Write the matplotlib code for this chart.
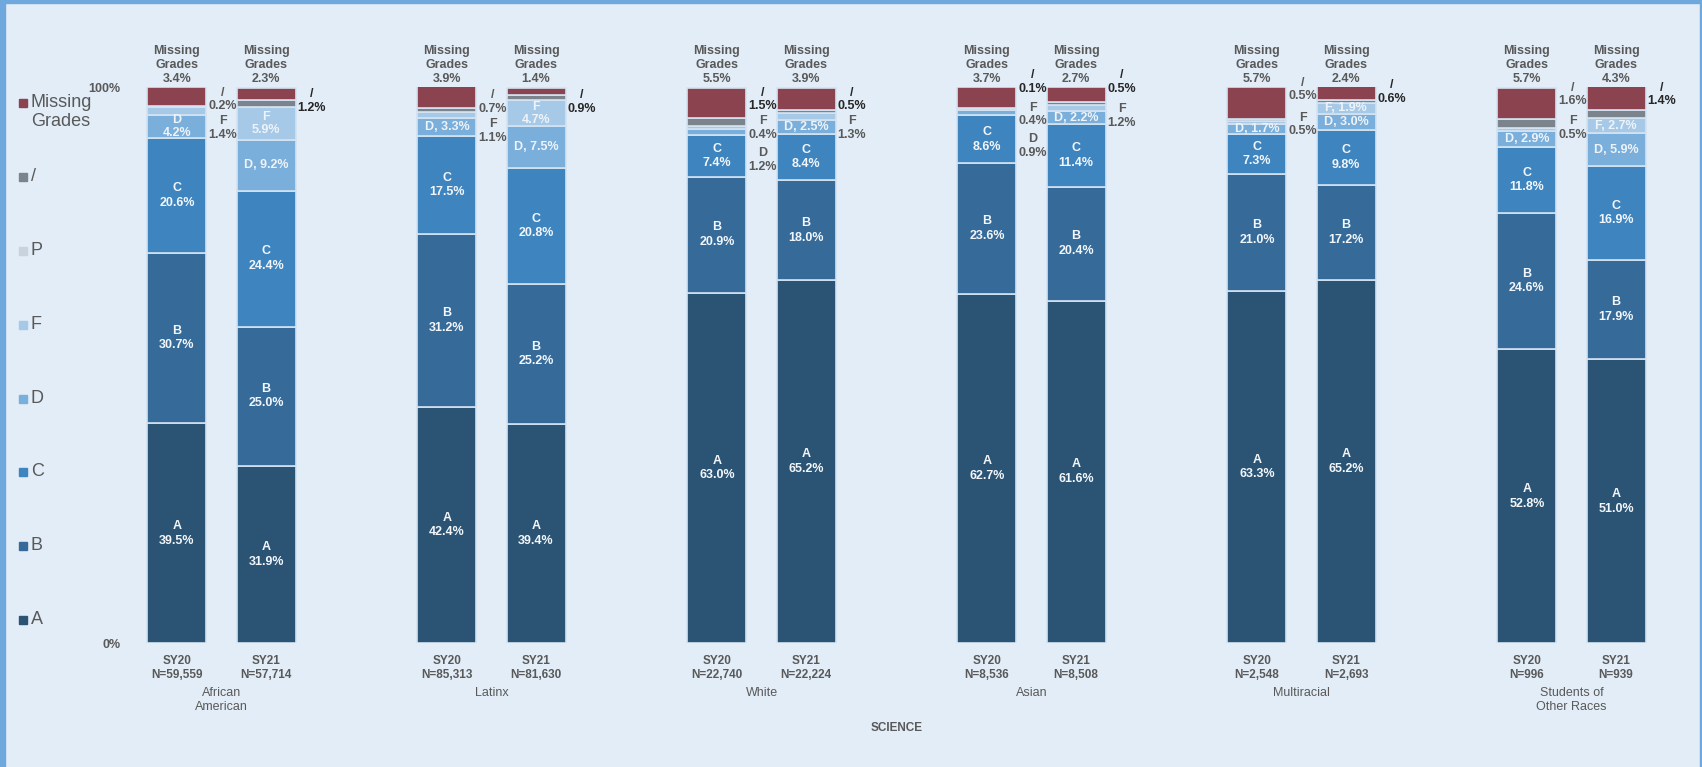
import matplotlib.pyplot as plt
from matplotlib.patches import Rectangle
import numpy as np

plt.rcParams['font.family'] = ['Liberation Sans', 'DejaVu Sans']

# grade categories, bottom to top of each stack
grades = ['A', 'B', 'C', 'D', 'F', 'P', '/', 'Missing Grades']
groups = ['African\nAmerican', 'Latinx', 'White', 'Asian', 'Multiracial', 'Students of\nOther Races']
years = ['SY20', 'SY21']
counts = [['59,559', '57,714'], ['85,313', '81,630'], ['22,740', '22,224'],
          ['8,536', '8,508'], ['2,548', '2,693'], ['996', '939']]

# percent of students per grade, one row per bar (group x year)
A = [39.5, 31.9, 42.4, 39.4, 63.0, 65.2, 62.7, 61.6, 63.3, 65.2, 52.8, 51.0]
B = [30.7, 25.0, 31.2, 25.2, 20.9, 18.0, 23.6, 20.4, 21.0, 17.2, 24.6, 17.9]
C = [20.6, 24.4, 17.5, 20.8, 7.4, 8.4, 8.6, 11.4, 7.3, 9.8, 11.8, 16.9]
D = [4.2, 9.2, 3.3, 7.5, 1.2, 2.5, 0.9, 2.2, 1.7, 3.0, 2.9, 5.9]
F = [1.4, 5.9, 1.1, 4.7, 0.4, 1.3, 0.4, 1.2, 0.5, 1.9, 0.5, 2.7]
P = [0.0, 0.0, 0.0, 0.0, 0.0, 0.0, 0.0, 0.0, 0.0, 0.0, 0.0, 0.0]
slash = [0.2, 1.2, 0.7, 0.9, 1.5, 0.5, 0.1, 0.5, 0.5, 0.6, 1.6, 1.4]
missing = [3.4, 2.3, 3.9, 1.4, 5.5, 3.9, 3.7, 2.7, 5.7, 2.4, 5.7, 4.3]

colors = ['#2b5374', '#366b99', '#3e84bf', '#7aaedb', '#a6c9e7', '#c9d3dd', '#7b838c', '#8b4350']
bg = '#e2edf7'
grey = '#595959'

# callout heights (in % units) for small segments labelled beside the bar
side_y = {
    (0, '/'): 97.7, (0, 'F'): 92.6,
    (1, '/'): 97.5,
    (2, '/'): 97.3, (2, 'F'): 92.1,
    (3, '/'): 97.3,
    (4, '/'): 97.7, (4, 'F'): 92.6, (4, 'D'): 86.9,
    (5, '/'): 97.7, (5, 'F'): 92.6,
    (6, '/'): 100.9, (6, 'F'): 95.1, (6, 'D'): 89.4,
    (7, '/'): 100.9, (7, 'F'): 94.8,
    (8, '/'): 99.5, (8, 'F'): 93.2,
    (9, '/'): 99.1,
    (10, '/'): 98.6, (10, 'F'): 92.6,
    (11, '/'): 98.6,
}
two_line = {(0, 'D'), (1, 'F'), (3, 'F')}

values = np.array([A, B, C, D, F, P, slash, missing])
n_bars = values.shape[1]
pos = np.array([g + off for g in range(len(groups)) for off in (-0.165, 0.165)])
width = 0.2185

fig = plt.figure(figsize=(17.02, 7.67), dpi=100, facecolor=bg)
ax = fig.add_axes([130 / 1702, 124 / 767, 1560 / 1702, 556 / 767])
ax.set_facecolor(bg)

bottom = np.zeros(n_bars)
for i, g in enumerate(grades):
    ax.bar(pos, values[i], width, bottom=bottom, color=colors[i],
           edgecolor='#d4e3f1', linewidth=1.2, label=g, zorder=2)
    for j in range(n_bars):
        v = values[i][j]
        mid = bottom[j] + v / 2
        if g in ('A', 'B', 'C'):
            ax.text(pos[j], mid, f'{g}\n{v:.1f}%', ha='center', va='center',
                    color='#f2f6fa', fontsize=9, fontweight='bold', linespacing=1.3)
        elif g in ('D', 'F') and (j, g) not in side_y:
            txt = f'{g}\n{v:.1f}%' if (j, g) in two_line else f'{g}, {v:.1f}%'
            ax.text(pos[j], mid, txt, ha='center', va='center',
                    color='#eef3f8', fontsize=9, fontweight='bold', linespacing=1.1)
        elif (j, g) in side_y:
            dark = g == '/' and (j % 2 == 1 or j in (4, 6))
            ax.text(pos[j] + width / 2 + 0.06, side_y[(j, g)], f'{g}\n{v:.1f}%',
                    ha='center', va='center', fontsize=9, fontweight='bold',
                    color='#262626' if dark else grey, linespacing=1.15)
        elif g == 'Missing Grades':
            ax.text(pos[j], 100.4, f'Missing\nGrades\n{v:.1f}%', ha='center',
                    va='bottom', fontsize=9, fontweight='bold', color=grey,
                    linespacing=1.2)
    bottom += values[i]

ax.set_ylim(0, 100)
ax.set_xlim(-0.339, 5.439)
ax.set_yticks([0, 100])
ax.set_yticklabels(['0%', '100%'], color=grey, fontsize=9, fontweight='bold')
ax.tick_params(axis='y', length=0, pad=7)
ax.set_xticks(pos)
ax.set_xticklabels([f'{years[j % 2]}\nN={counts[j // 2][j % 2]}' for j in range(n_bars)],
                   color=grey, fontsize=8.5, fontweight='bold', linespacing=1.15)
ax.tick_params(axis='x', length=0, pad=9)
for s in ax.spines.values():
    s.set_visible(False)

for g, name in enumerate(groups):
    ax.text(g, -8.0, name, ha='center', va='top', fontsize=9, color=grey,
            linespacing=1.15, transform=ax.transData)

fig.text(897 / 1702, 1 - 728 / 767, 'SCIENCE', ha='center', va='center',
         fontsize=8.5, fontweight='bold', color=grey)

# legend column on the left, top entry first
for k, g in enumerate(grades[::-1]):
    y = 1 - (103 + 73.9 * k) / 767
    fig.patches.append(Rectangle((19 / 1702, y - 4 / 767), 8 / 1702, 8 / 767,
                                 transform=fig.transFigure, color=colors[::-1][k]))
    label = 'Missing\nGrades' if g == 'Missing Grades' else g
    fig.text(31 / 1702, y + 9 / 767, label, ha='left', va='top', fontsize=13,
             color=grey, linespacing=1.15)

# page frame
fig.patches.append(Rectangle((0, 0), 5 / 1702, 1, transform=fig.transFigure, color='#6fa8dc'))
fig.patches.append(Rectangle((0, 1 - 3 / 767), 1, 3 / 767, transform=fig.transFigure, color='#6fa8dc'))
fig.patches.append(Rectangle((1 - 2 / 1702, 0), 2 / 1702, 1, transform=fig.transFigure, color='#6fa8dc'))

fig.savefig('out.png', dpi=100, facecolor=bg)
